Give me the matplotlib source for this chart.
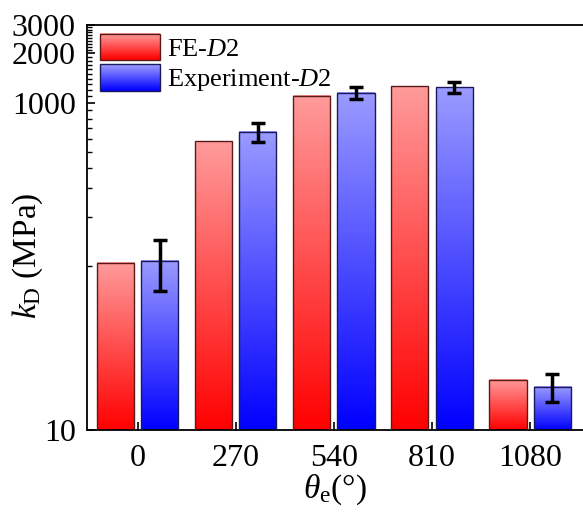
import numpy as np
import matplotlib
matplotlib.use("Agg")
import matplotlib.pyplot as plt
from matplotlib.colors import LinearSegmentedColormap
from matplotlib.patches import Rectangle
from matplotlib.legend_handler import HandlerBase

plt.rcParams['font.family'] = ['Liberation Serif', 'DejaVu Serif']
plt.rcParams['mathtext.fontset'] = 'custom'
plt.rcParams['mathtext.rm'] = 'Liberation Serif'
plt.rcParams['mathtext.it'] = 'Liberation Serif:italic'

# ---- data ----
categories = ['0', '270', '540', '810', '1080']
fe_values = [105, 580, 1104, 1263, 20.3]
exp_values = [108, 667, 1150, 1240, 18.4]
exp_errors = [37, 90, 90, 100, 3.6]
series_labels = ['FE-$D$2', 'Experiment-$D$2']
ytick_major = [10, 1000, 2000, 3000]
ytick_labels = ['10', '1000', '2000', '3000']

red_cmap = LinearSegmentedColormap.from_list('r', ['#FF0000', '#FF9B9B'])
blue_cmap = LinearSegmentedColormap.from_list('b', ['#0000FF', '#9B9BFF'])
red_edge = '#5A1A1A'
blue_edge = '#1A1A5A'

fig = plt.figure(figsize=(5.83, 5.16), dpi=100)
ax = fig.add_axes([0.149, 0.1667, 0.851, 0.7855])

x = np.arange(len(categories))
w = 0.378
off = 0.225
ymin, ymax = 10, 3000

ax.set_yscale('log')
ax.set_xlim(-0.52, 4.54)
ax.set_ylim(ymin, ymax)

bars_fe = ax.bar(x - off, fe_values, w, bottom=0, facecolor='none',
                 edgecolor=red_edge, linewidth=1.0, zorder=3)
bars_exp = ax.bar(x + off, exp_values, w, bottom=0, facecolor='none',
                  edgecolor=blue_edge, linewidth=1.0, zorder=3)

ax.set_ylim(ymin, ymax)
ax.set_xlim(-0.52, 4.54)

grad = np.linspace(0, 1, 256).reshape(-1, 1)
d2a = ax.transData + ax.transAxes.inverted()
for bars, vals, cmap in [(bars_fe, fe_values, red_cmap), (bars_exp, exp_values, blue_cmap)]:
    for b, v in zip(bars, vals):
        x0 = b.get_x()
        x1 = x0 + b.get_width()
        (ax0, ay0), (ax1, ay1) = d2a.transform([[x0, ymin], [x1, v]])
        ax.imshow(grad, cmap=cmap, origin='lower', aspect='auto',
                  extent=(ax0, ax1, ay0, ay1), transform=ax.transAxes,
                  zorder=2, interpolation='bilinear')

ax.errorbar(x + off, exp_values, yerr=exp_errors, fmt='none', ecolor='black',
            elinewidth=2.5, capsize=5, capthick=2.5, zorder=5)

ax.set_ylim(ymin, ymax)
ax.set_xlim(-0.52, 4.54)

# ticks
ax.set_xticks(x)
ax.set_xticklabels(categories)
ax.set_yticks(ytick_major)
ax.set_yticklabels(ytick_labels)
minor = [v for v in range(100, 3000, 100) if v not in (1000, 2000)]
ax.set_yticks(minor, minor=True)
ax.yaxis.set_minor_formatter(matplotlib.ticker.NullFormatter())
ax.tick_params(axis='both', which='major', direction='in', length=6, width=1.2,
               labelsize=23)
ax.tick_params(axis='y', which='major', pad=8)
ax.tick_params(axis='y', which='minor', direction='in', length=3.5, width=1.0)
ax.tick_params(axis='x', which='minor', bottom=False)
ax.tick_params(axis='x', which='major', pad=10)

for s in ['left', 'bottom', 'top']:
    ax.spines[s].set_linewidth(1.3)
ax.spines['right'].set_visible(False)

ax.set_xlabel(r'$\theta_{\mathrm{e}}$(°)', fontsize=24, labelpad=0)
ax.set_ylabel(r'$k_{\mathrm{D}}$ (MPa)', fontsize=24)
ax.yaxis.set_label_coords(-0.085, 0.43)


class GradHandler(HandlerBase):
    def __init__(self, cmap, edge):
        super().__init__()
        self.cmap = cmap
        self.edge = edge

    def create_artists(self, legend, orig_handle, xdescent, ydescent, width,
                       height, fontsize, trans):
        arts = []
        n = 40
        for i in range(n):
            r = Rectangle((-xdescent, -ydescent + height * i / n), width,
                          height / n + 0.3, facecolor=self.cmap(i / (n - 1)),
                          edgecolor='none', transform=trans)
            arts.append(r)
        arts.append(Rectangle((-xdescent, -ydescent), width, height,
                              facecolor='none', edgecolor=self.edge,
                              linewidth=1.0, transform=trans))
        return arts


h1 = Rectangle((0, 0), 1, 1)
h2 = Rectangle((0, 0), 1, 1)
ax.legend([h1, h2], series_labels,
          handler_map={h1: GradHandler(red_cmap, red_edge),
                       h2: GradHandler(blue_cmap, blue_edge)},
          loc='upper left', bbox_to_anchor=(0.026, 0.978), frameon=False,
          fontsize=19, handlelength=2.27, handleheight=1.14,
          handletextpad=0.27, labelspacing=0.15, borderpad=0, borderaxespad=0)

fig.savefig('out.png', dpi=100)
